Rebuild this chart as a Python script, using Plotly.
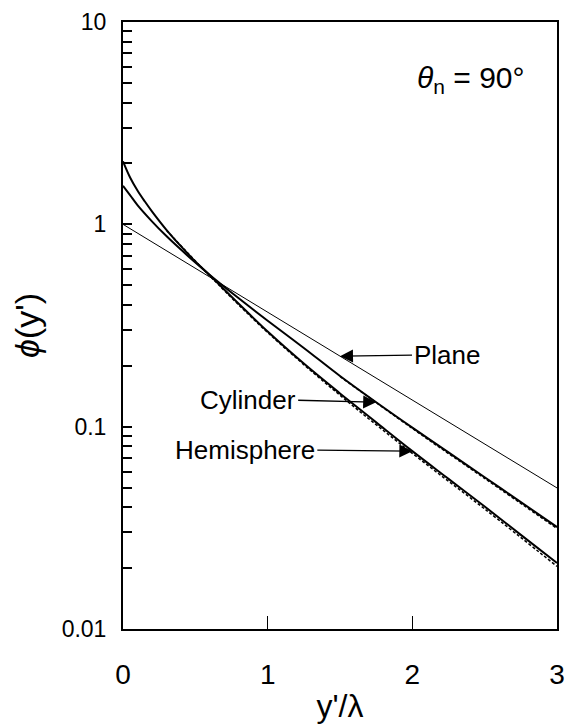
import numpy as np
import plotly.graph_objects as go

# ---- data ----
plane_x = [0.0, 0.5, 1.0, 1.5, 2.0, 2.5, 3.0]
plane_y = [1.0, 0.607, 0.368, 0.223, 0.135, 0.082, 0.0498]

cyl_x = [0.0, 0.05, 0.1, 0.2, 0.3, 0.4, 0.5, 0.6, 0.8, 1.0, 1.25, 1.5, 1.75, 2.0, 2.25, 2.5, 2.75, 3.0]
cyl_y = [1.55, 1.39, 1.245, 1.035, 0.875, 0.75, 0.647, 0.562, 0.431, 0.334, 0.245, 0.178, 0.132,
         0.0989, 0.0746, 0.0562, 0.0424, 0.0319]

hem_x = [0.0, 0.05, 0.1, 0.15, 0.2, 0.3, 0.4, 0.5, 0.6, 0.8, 1.0, 1.25, 1.5, 1.75, 2.0, 2.25, 2.5, 2.75, 3.0]
hem_y = [2.05, 1.70, 1.47, 1.30, 1.16, 0.94, 0.78, 0.655, 0.56, 0.405, 0.295, 0.205, 0.146, 0.105,
         0.0757, 0.0552, 0.0403, 0.0292, 0.0212]

hem_dash_x = [0.3, 0.6, 1.0, 1.5, 2.0, 2.5, 3.0]
hem_dash_y = [0.935, 0.556, 0.292, 0.143, 0.0738, 0.0392, 0.0204]

cyl_dash_x = [1.5, 2.0, 2.5, 3.0]
cyl_dash_y = [0.177, 0.0980, 0.0555, 0.0314]

x_ticks = [0, 1, 2, 3]
x_ticktext = ["0", "1", "2", "3"]
y_major = [0.01, 0.1, 1, 10]
y_major_text = ["0.01", "0.1", "1", "10"]
y_minor_digits = [2, 3, 4, 5, 6, 7, 8, 9]

FONT = "Liberation Sans, Arial, sans-serif"

y_minor = [d * m for d in y_major[:-1] for m in y_minor_digits]

fig = go.Figure()
fig.add_trace(go.Scatter(x=plane_x, y=plane_y, mode="lines",
                         line=dict(color="black", width=1)))
fig.add_trace(go.Scatter(x=cyl_x, y=cyl_y, mode="lines", line_shape="spline",
                         line=dict(color="black", width=2)))
fig.add_trace(go.Scatter(x=hem_x, y=hem_y, mode="lines", line_shape="spline",
                         line=dict(color="black", width=2)))
fig.add_trace(go.Scatter(x=hem_dash_x, y=hem_dash_y, mode="lines", line_shape="spline",
                         line=dict(color="black", width=1.5, dash="3px,2px")))
fig.add_trace(go.Scatter(x=cyl_dash_x, y=cyl_dash_y, mode="lines", line_shape="spline",
                         line=dict(color="black", width=1.5, dash="3px,2px")))

arrow_style = dict(showarrow=True, arrowhead=2, arrowsize=2.0, arrowwidth=1.3,
                   arrowcolor="black", font=dict(family=FONT, size=26, color="black"),
                   xref="x", yref="y", yanchor="middle")

fig.add_annotation(x=plane_x[3], y=np.log10(plane_y[3]), text="Plane",
                   ax=72, ay=-1, xanchor="left", **arrow_style)
fig.add_annotation(x=cyl_x[12], y=np.log10(cyl_y[12]), text="Cylinder",
                   ax=-78, ay=-2, xanchor="right", **arrow_style)
fig.add_annotation(x=hem_x[14], y=np.log10(hem_y[14]), text="Hemisphere",
                   ax=-95, ay=-1, xanchor="right", **arrow_style)

fig.add_annotation(x=0.802, y=0.906, xref="paper", yref="paper", showarrow=False,
                   xanchor="center", yanchor="middle",
                   text="<i>θ</i><sub>n</sub> = 90°",
                   font=dict(family=FONT, size=30, color="black"))

fig.update_xaxes(range=[0, 3], tickvals=x_ticks, ticktext=x_ticktext,
                 ticks="inside", ticklen=13, tickwidth=1.2, tickcolor="black",
                 showline=True, linecolor="black", linewidth=2, mirror=True,
                 showgrid=False, zeroline=False, ticklabelstandoff=19,
                 tickfont=dict(family=FONT, size=28, color="black"),
                 title=dict(text="y'/λ", standoff=6,
                            font=dict(family=FONT, size=32, color="black")))
fig.update_yaxes(type="log", range=[-2, 1], tickvals=y_major, ticktext=y_major_text,
                 ticks="inside", ticklen=9, tickwidth=1.5, tickcolor="black",
                 minor=dict(tickmode="array", tickvals=y_minor, ticks="inside",
                            ticklen=9, tickwidth=1.5, tickcolor="black", showgrid=False),
                 showline=True, linecolor="black", linewidth=2, mirror=True,
                 showgrid=False, zeroline=False, ticklabelstandoff=10,
                 tickfont=dict(family=FONT, size=23, color="black"),
                 title=dict(text="<i>ϕ</i>(y')", standoff=12,
                            font=dict(family=FONT, size=34, color="black")))

fig.update_layout(width=566, height=726, showlegend=False,
                  margin=dict(l=123, r=9, t=22, b=97, autoexpand=False),
                  plot_bgcolor="white", paper_bgcolor="white")

fig.write_html("out.html")
